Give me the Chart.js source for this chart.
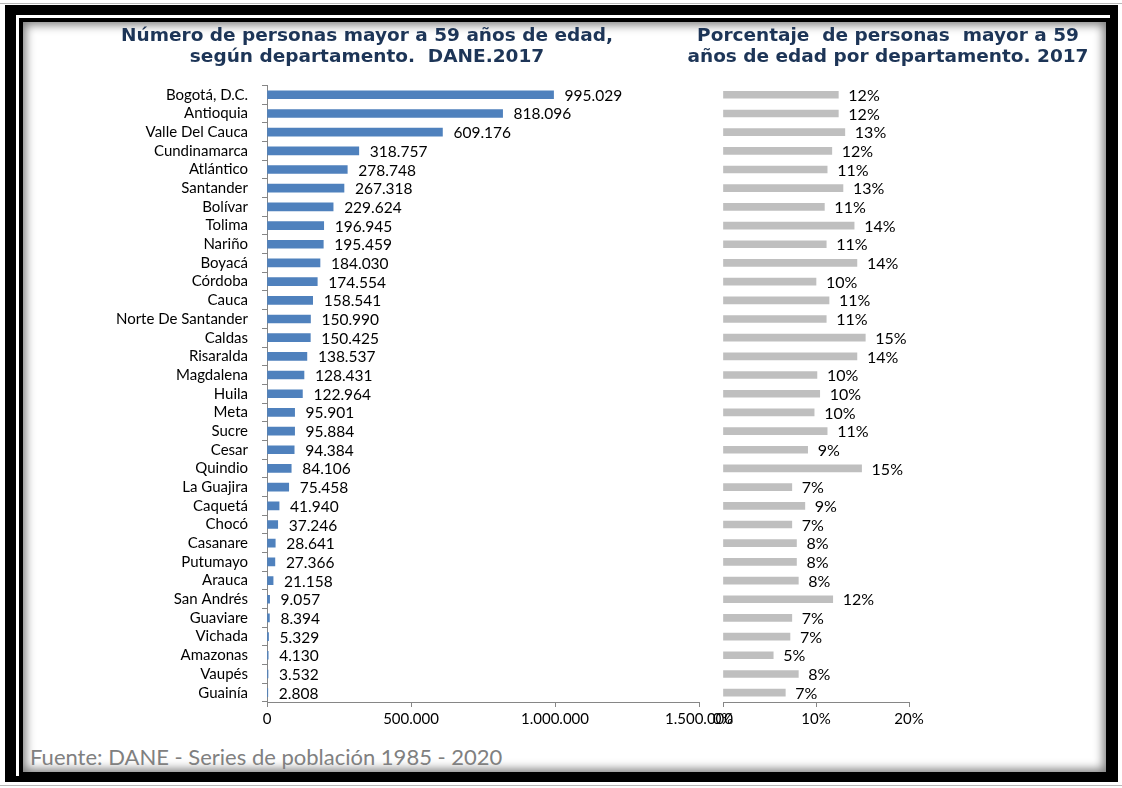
<!DOCTYPE html>
<html lang="es">
<head>
<meta charset="utf-8">
<title>Personas mayores de 59 años por departamento - DANE 2017</title>
<script src="https://cdn.jsdelivr.net/npm/chart.js@4.4.1/dist/chart.umd.min.js"></script>
<style>
  body { margin: 0; background: #fff; width: 1122px; height: 788px; position: relative; overflow: hidden; }
  .linea { position: absolute; left: 0; width: 1122px; height: 1px; background: #b8b8b8; }
  #marco { position: absolute; left: 5px; top: 5px; width: 1113px; height: 777px; background: #000; }
  #hueco { position: absolute; left: 16px; top: 15px; width: 1094px; height: 761px; background: #fff; }
  #panel {
    position: absolute; left: 19px; top: 18px; width: 1091px; height: 758px;
    box-sizing: border-box; border: 4px solid #000; background: #fff;
    box-shadow: inset 0 0 10px 3px rgba(0, 0, 0, 0.5);
  }
  canvas { position: absolute; top: 20px; }
  #graficoNumero { left: 30px; }
  #graficoPorcentaje { left: 670px; }
  #fuente {
    position: absolute; left: 30px; top: 743px;
    font-family: Lato, "Open Sans", sans-serif; font-size: 22px; color: #808080;
    white-space: nowrap;
  }
</style>
</head>
<body>
<div class="linea" style="top:3px"></div>
<div class="linea" style="top:785px"></div>
<div id="marco"></div>
<div id="hueco"></div>
<div id="panel"></div>
<canvas id="graficoNumero" width="715" height="720"></canvas>
<canvas id="graficoPorcentaje" width="436" height="720"></canvas>
<div id="fuente">Fuente: DANE - Series de población 1985 - 2020</div>

<script>
// Departamentos (de mayor a menor población de 60 años y más)
const departamentos = [
  'Bogotá, D.C.', 'Antioquia', 'Valle Del Cauca', 'Cundinamarca', 'Atlántico',
  'Santander', 'Bolívar', 'Tolima', 'Nariño', 'Boyacá', 'Córdoba', 'Cauca',
  'Norte De Santander', 'Caldas', 'Risaralda', 'Magdalena', 'Huila', 'Meta',
  'Sucre', 'Cesar', 'Quindio', 'La Guajira', 'Caquetá', 'Chocó', 'Casanare',
  'Putumayo', 'Arauca', 'San Andrés', 'Guaviare', 'Vichada', 'Amazonas',
  'Vaupés', 'Guainía'
];

// Número de personas mayores a 59 años
const personasMayores = [
  995029, 818096, 609176, 318757, 278748, 267318, 229624, 196945, 195459,
  184030, 174554, 158541, 150990, 150425, 138537, 128431, 122964, 95901,
  95884, 94384, 84106, 75458, 41940, 37246, 28641, 27366, 21158, 9057,
  8394, 5329, 4130, 3532, 2808
];

// Porcentaje de personas mayores a 59 años sobre la población del departamento
const porcentajeMayores = [
  12.4, 12.4, 13.1, 11.7, 11.2, 12.9, 10.9, 14.1, 11.1, 14.4, 10.0, 11.4,
  11.1, 15.3, 14.4, 10.1, 10.4, 9.8, 11.2, 9.1, 14.9, 7.4, 8.8, 7.4, 7.9,
  7.9, 8.1, 11.8, 7.4, 7.2, 5.4, 8.1, 6.7
];

const ticksNumero = [0, 500000, 1000000, 1500000];
const ticksPorcentaje = [0, 10, 20];

const fuenteTexto = 'Lato, "Open Sans", sans-serif';
const colorEje = '#868686';
const colorTitulo = '#1D3557';

// separador de miles con punto
function miles(v) {
  return String(Math.round(v)).replace(/\B(?=(\d{3})+(?!\d))/g, '.');
}

function porcentaje(v) {
  return Math.round(v) + '%';
}

// escribe el valor a la derecha de cada barra
function etiquetasBarras(formato, desfase, tam) {
  return {
    id: 'etiquetasBarras',
    afterDatasetsDraw(chart) {
      const c = chart.ctx;
      const meta = chart.getDatasetMeta(0);
      const datos = chart.data.datasets[0].data;
      c.save();
      c.font = tam + 'px ' + fuenteTexto;
      c.fillStyle = '#000';
      c.textAlign = 'left';
      c.textBaseline = 'middle';
      meta.data.forEach((barra, i) => {
        c.fillText(formato(datos[i]), barra.x + desfase, barra.y + 1);
      });
      c.restore();
    }
  };
}

function titulo(lineas) {
  return {
    display: true,
    text: lineas,
    color: colorTitulo,
    font: { family: '"DejaVu Sans", sans-serif', size: 18.5, weight: 'bold', lineHeight: 1.12 },
    padding: { top: 6, bottom: 18 }
  };
}

function ejeValores(min, max, lista, formato) {
  return {
    min: min,
    max: max,
    afterBuildTicks: s => { s.ticks = lista.map(v => ({ value: v })); },
    ticks: { callback: v => formato(v), color: '#000', font: { family: fuenteTexto, size: 15 }, padding: 3, maxRotation: 0 },
    grid: { drawOnChartArea: false, tickLength: 5, color: colorEje },
    border: { color: colorEje },
    afterFit: s => { s.height = 25; }
  };
}

// Gráfico 1: número de personas
new Chart(document.getElementById('graficoNumero'), {
  type: 'bar',
  data: {
    labels: departamentos,
    datasets: [{
      data: personasMayores,
      backgroundColor: '#4F81BD',
      barThickness: 8
    }]
  },
  options: {
    responsive: false,
    animation: false,
    indexAxis: 'y',
    layout: { padding: { left: 5, right: 46, top: 0, bottom: 13 } },
    plugins: {
      legend: { display: false },
      tooltip: { enabled: false },
      title: titulo(['Número de personas mayor a 59 años de edad,', 'según departamento.  DANE.2017'])
    },
    scales: {
      x: ejeValores(0, 1500000, ticksNumero, miles),
      y: {
        ticks: { color: '#000', font: { family: fuenteTexto, size: 15 }, padding: 14, autoSkip: false },
        grid: { drawOnChartArea: false, offset: true, tickLength: 5, color: colorEje },
        border: { color: colorEje },
        afterFit: s => { s.width = 232; }
      }
    }
  },
  plugins: [etiquetasBarras(miles, 11, 15.5)]
});

// Gráfico 2: porcentaje de personas
new Chart(document.getElementById('graficoPorcentaje'), {
  type: 'bar',
  data: {
    labels: departamentos,
    datasets: [{
      data: porcentajeMayores,
      backgroundColor: '#BFBFBF',
      barThickness: 7
    }]
  },
  options: {
    responsive: false,
    animation: false,
    indexAxis: 'y',
    layout: { padding: { left: 0, right: 0, top: 0, bottom: 13 } },
    plugins: {
      legend: { display: false },
      tooltip: { enabled: false },
      title: titulo(['Porcentaje  de personas  mayor a 59', 'años de edad por departamento. 2017'])
    },
    scales: {
      x: ejeValores(0, 20, ticksPorcentaje, porcentaje),
      y: {
        ticks: { display: false },
        grid: { display: false },
        border: { display: false },
        afterFit: s => { s.width = 53; }
      },
      yDerecha: {
        type: 'category',
        position: 'right',
        display: true,
        ticks: { display: false },
        grid: { display: false },
        border: { display: false },
        afterFit: s => { s.width = 197; }
      }
    }
  },
  plugins: [etiquetasBarras(porcentaje, 10, 16)]
});
</script>
</body>
</html>
